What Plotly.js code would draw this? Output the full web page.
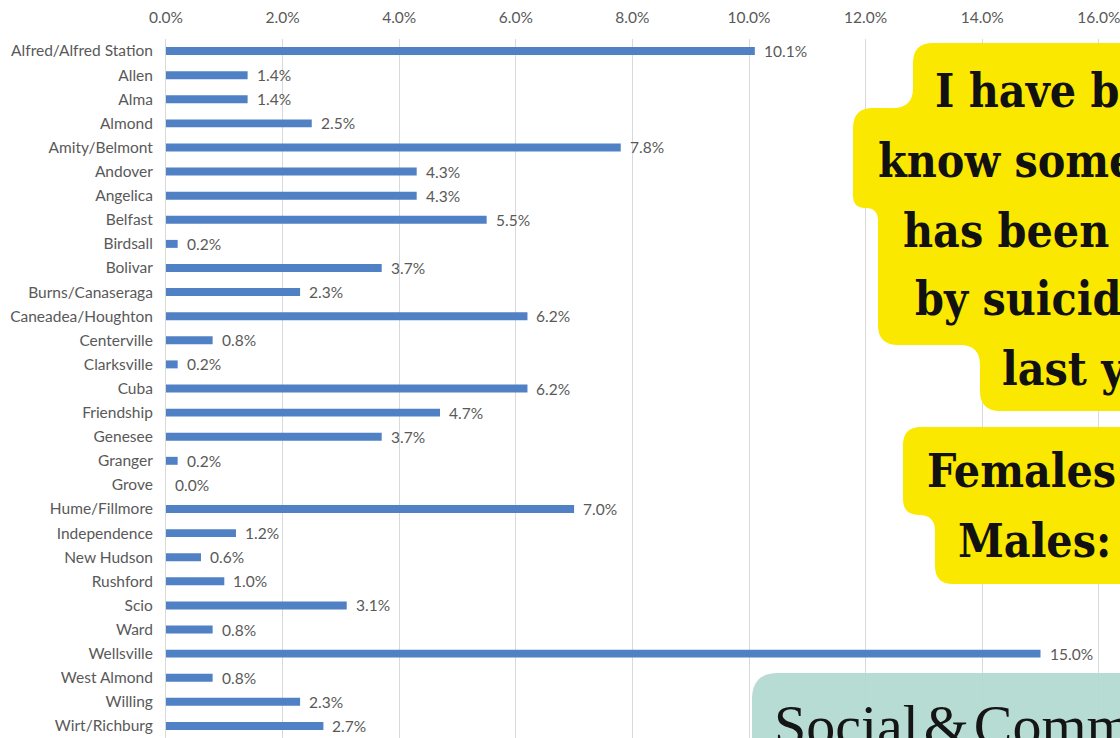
<!DOCTYPE html>
<html>
<head>
<meta charset="utf-8">
<script src="https://cdn.plot.ly/plotly-3.0.1.min.js"></script>
<style>html,body{margin:0;padding:0;background:#fff;overflow:hidden}#chart{width:1120px;height:738px}</style>
</head>
<body>
<div id="chart"></div>
<script>
const categories = ["Alfred/Alfred Station","Allen","Alma","Almond","Amity/Belmont","Andover","Angelica","Belfast","Birdsall","Bolivar","Burns/Canaseraga","Caneadea/Houghton","Centerville","Clarksville","Cuba","Friendship","Genesee","Granger","Grove","Hume/Fillmore","Independence","New Hudson","Rushford","Scio","Ward","Wellsville","West Almond","Willing","Wirt/Richburg"];
const values = [10.1,1.4,1.4,2.5,7.8,4.3,4.3,5.5,0.2,3.7,2.3,6.2,0.8,0.2,6.2,4.7,3.7,0.2,0.0,7.0,1.2,0.6,1.0,3.1,0.8,15.0,0.8,2.3,2.7];
const tickVals = [0,2,4,6,8,10,12,14,16];
const calloutLines = ["I have been or","know someone who","has been affected","by suicide in the","last year"];
const genderLines = ["Females:","Males:"];
const footerText = "Social\u200A&\u200ACommunity";

const W = 1120, H = 738;
const M = {l:166, r:0, t:39, b:0};
const PW = W - M.l - M.r, PH = H - M.t - M.b;
const px = x => (x - M.l) / PW;
const py = y => (H - M.b - y) / PH;

// rounded polygon path (pixel vertices -> paper coords)
function roundPoly(pts, r){
  const n = pts.length, X = v => px(v).toFixed(5), Y = v => py(v).toFixed(5);
  let d = '';
  for(let i=0;i<n;i++){
    const p0 = pts[(i-1+n)%n], v = pts[i], p2 = pts[(i+1)%n];
    const l1 = Math.hypot(v[0]-p0[0], v[1]-p0[1]), l2 = Math.hypot(p2[0]-v[0], p2[1]-v[1]);
    const ri = Math.min(r, l1/2, l2/2);
    const a = [v[0]-(v[0]-p0[0])/l1*ri, v[1]-(v[1]-p0[1])/l1*ri];
    const b = [v[0]+(p2[0]-v[0])/l2*ri, v[1]+(p2[1]-v[1])/l2*ri];
    d += (i===0?'M':'L') + X(a[0])+','+Y(a[1]) + ' Q' + X(v[0])+','+Y(v[1]) + ' ' + X(b[0])+','+Y(b[1]) + ' ';
  }
  return d + 'Z';
}
const yellow = '#fbe800';
const teal = 'rgba(178,217,208,0.93)';
const polys = [
  [[[913,43],[1160,43],[1160,411],[980,411],[980,345],[878,345],[878,208],[853,208],[853,108],[913,108]], 20, yellow],
  [[[903,427],[1160,427],[1160,584],[935,584],[935,515],[903,515]], 18, yellow],
  [[[752,673],[1160,673],[1160,800],[752,800]], 26, teal]
];
const shapes = polys.map(p => ({type:'path', xref:'paper', yref:'paper', path:roundPoly(p[0],p[1]), fillcolor:p[2], line:{width:0}, layer:'above'}));

const serif = '"DejaVu Serif Condensed","DejaVu Serif",serif';
const sans = 'Lato, "Open Sans", sans-serif';
const annotations = [];
values.forEach((v,i) => annotations.push({x:v, y:categories[i], xref:'x', yref:'y', text:v.toFixed(1)+'%', showarrow:false, xanchor:'left', xshift:7, font:{family:sans, size:15.5, color:'#595959'}}));
const lineLeft = [933,876,901,913,1000];
const lineBase = [107,177,247,315,385];
calloutLines.forEach((t,i) => annotations.push({x:px(lineLeft[i]), y:py(lineBase[i]-16), xref:'paper', yref:'paper', text:'<b>'+t+'</b>', showarrow:false, xanchor:'left', yanchor:'middle', font:{family:serif, size:46, color:'#111'}}));
const gLeft = [925,956], gBase = [487,557];
genderLines.forEach((t,i) => annotations.push({x:px(gLeft[i]), y:py(gBase[i]-16), xref:'paper', yref:'paper', text:'<b>'+t+'</b>', showarrow:false, xanchor:'left', yanchor:'middle', font:{family:serif, size:46, color:'#111'}}));
annotations.push({x:px(772), y:py(725), xref:'paper', yref:'paper', text:footerText, showarrow:false, xanchor:'left', yanchor:'middle', font:{family:'"Liberation Serif",serif', size:58, color:'#151515'}});

const trace = {type:'bar', orientation:'h', x:values, y:categories, width:0.33, marker:{color:'#5081c5'}, hoverinfo:'x+y'};
const layout = {
  width:W, height:H, margin:M, paper_bgcolor:'#fff', plot_bgcolor:'#fff', showlegend:false,
  xaxis:{side:'top', range:[0,(W-M.l)/58.3], tickvals:tickVals, ticktext:tickVals.map(v=>v.toFixed(1)+'%'), ticklabeloverflow:'allow', showgrid:true, gridcolor:'#d9d9d9', gridwidth:1, zeroline:false, showline:false, ticks:'outside', ticklen:9, tickcolor:'rgba(0,0,0,0)', tickfont:{family:sans, size:15.5, color:'#595959'}, fixedrange:true},
  yaxis:{type:'category', autorange:'reversed', showgrid:false, zeroline:false, showline:true, linecolor:'#d9d9d9', linewidth:1, ticks:'outside', ticklen:9, tickcolor:'rgba(0,0,0,0)', tickfont:{family:sans, size:15.5, color:'#595959'}, fixedrange:true},
  shapes:shapes, annotations:annotations
};
Plotly.newPlot('chart',[trace],layout,{displayModeBar:false, staticPlot:true});
</script>
</body>
</html>
